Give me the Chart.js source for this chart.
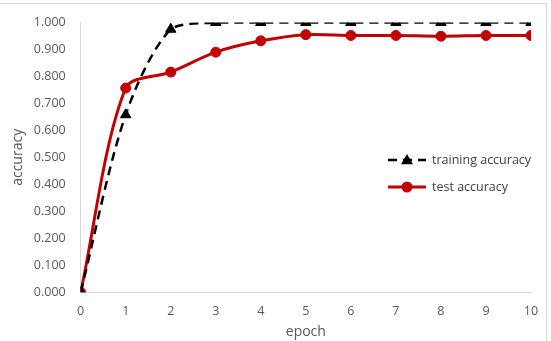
<!DOCTYPE html>
<html>
<head>
<meta charset="utf-8">
<script src="https://cdn.jsdelivr.net/npm/chart.js@4/dist/chart.umd.min.js"></script>
<style>
  html, body { margin: 0; padding: 0; background: #fff; }
  #frame { position: absolute; left: -3px; top: 3px; width: 550px; height: 345px; border: 1px solid #d9d9d9; box-sizing: border-box; }
  #wrap { position: absolute; left: 0; top: 0; width: 551px; height: 341px; }
</style>
</head>
<body>
<div id="frame"></div>
<div id="wrap"><canvas id="chart"></canvas></div>
<script>
const epochs = [0, 1, 2, 3, 4, 5, 6, 7, 8, 9, 10];
const trainingAccuracy = [0.000, 0.658, 0.975, 1.000, 1.000, 1.000, 1.000, 1.000, 1.000, 1.000, 1.000];
const testAccuracy = [0.000, 0.757, 0.816, 0.890, 0.932, 0.955, 0.952, 0.952, 0.949, 0.952, 0.952];

const toPoints = (vals) => vals.map((v, i) => ({ x: epochs[i], y: v }));

// legend drawn inside the plot area, like the original
const insideLegend = {
  id: 'insideLegend',
  afterDraw(chart) {
    const ctx = chart.ctx;
    const items = [
      { label: 'training accuracy', ds: chart.data.datasets[0], y: 160 },
      { label: 'test accuracy', ds: chart.data.datasets[1], y: 187 }
    ];
    ctx.save();
    items.forEach(it => {
      const x0 = 388, x1 = 426;
      ctx.strokeStyle = it.ds.borderColor;
      ctx.lineWidth = it.ds.borderWidth;
      ctx.setLineDash(it.ds.borderDash || []);
      ctx.beginPath();
      ctx.moveTo(x0, it.y);
      ctx.lineTo(x1, it.y);
      ctx.stroke();
      ctx.setLineDash([]);
      ctx.fillStyle = it.ds.pointBackgroundColor;
      ctx.beginPath();
      if (it.ds.pointStyle === 'triangle') {
        const r = 6;
        ctx.moveTo(407, it.y - r);
        ctx.lineTo(407 + r, it.y + r * 0.7);
        ctx.lineTo(407 - r, it.y + r * 0.7);
        ctx.closePath();
      } else {
        ctx.arc(407, it.y, 5.5, 0, Math.PI * 2);
      }
      ctx.fill();
      ctx.fillStyle = '#404040';
      ctx.font = '12.5px "Open Sans"';
      ctx.textBaseline = 'middle';
      ctx.fillText(it.label, 432, it.y);
    });
    ctx.restore();
  }
};

new Chart(document.getElementById('chart'), {
  type: 'line',
  data: {
    datasets: [{
      label: 'training accuracy',
      data: toPoints(trainingAccuracy),
      borderColor: '#000000',
      backgroundColor: '#000000',
      pointBackgroundColor: '#000000',
      pointBorderColor: '#000000',
      pointStyle: 'triangle',
      pointRadius: 6,
      pointBorderWidth: 1,
      borderWidth: 2.5,
      borderDash: [9, 6],
      tension: 0.3
    }, {
      label: 'test accuracy',
      data: toPoints(testAccuracy),
      borderColor: '#c00000',
      backgroundColor: '#c00000',
      pointBackgroundColor: '#c00000',
      pointBorderColor: '#c00000',
      pointStyle: 'circle',
      pointRadius: 5,
      pointBorderWidth: 1,
      borderWidth: 3,
      tension: 0.3
    }]
  },
  options: {
    responsive: true,
    maintainAspectRatio: false,
    animation: false,
    layout: { padding: { left: 10, right: 20, top: 11, bottom: 0 } },
    plugins: {
      legend: { display: false },
      tooltip: { enabled: false }
    },
    scales: {
      x: {
        type: 'linear',
        min: 0,
        max: 10,
        ticks: { stepSize: 1, color: '#595959', font: { family: 'Open Sans', size: 12.5 }, padding: 12 },
        grid: { display: false, drawTicks: false },
        border: { color: '#d9d9d9', width: 1 },
        title: { display: true, text: 'epoch', color: '#595959', font: { family: 'Open Sans', size: 14 }, padding: { top: -8, bottom: 1 } }
      },
      y: {
        min: 0,
        max: 1,
        ticks: { stepSize: 0.1, color: '#595959', font: { family: 'Open Sans', size: 12.5 }, padding: 15,
          callback: v => v.toFixed(3) },
        grid: { display: false, drawTicks: false },
        border: { color: '#d9d9d9', width: 1 },
        title: { display: true, text: 'accuracy', color: '#595959', font: { family: 'Open Sans', size: 14 }, padding: { top: 0, bottom: -8 } }
      }
    }
  },
  plugins: [insideLegend]
});
</script>
</body>
</html>
